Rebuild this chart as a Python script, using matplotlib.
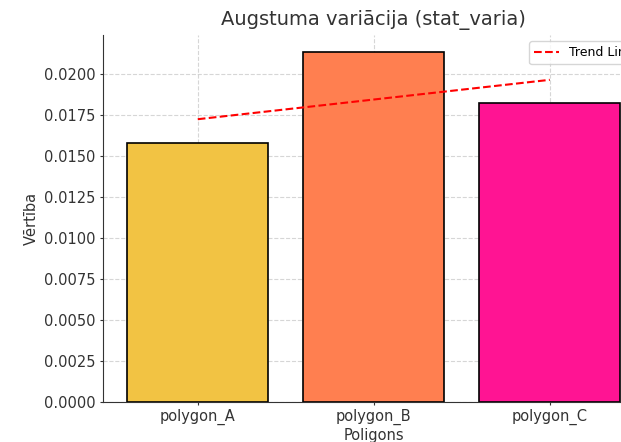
import matplotlib
matplotlib.use("Agg")
import matplotlib.pyplot as plt
import numpy as np

categories = ["polygon_A", "polygon_B", "polygon_C"]
values = [0.0158, 0.0213, 0.0182]
colors = ["#F2C343", "#FF7F50", "#FF1493"]

fig = plt.figure(figsize=(6.21, 4.42), dpi=100)
ax = fig.add_axes([0.1654, 0.0905, 0.873, 0.8303])

x = np.arange(len(categories))
ax.bar(x, values, color=colors, edgecolor="black", linewidth=1.2, width=0.8, zorder=2)
coef = np.polyfit(x, values, 1)
ax.plot(x, np.polyval(coef, x), "r--", linewidth=1.5, label="Trend Line", zorder=3)

ax.set_xticks(x)
ax.set_xticklabels(categories)
ax.set_title("Augstuma variācija (stat_varia)", fontsize=14, color="#333333", pad=7)
ax.set_xlabel("Poligons", fontsize=10.5, color="#333333", labelpad=2)
ax.set_ylabel("Vērtība", fontsize=10.5, color="#333333", labelpad=4)
ax.grid(True, linestyle="--", color="#cccccc", alpha=0.8, zorder=0)
ax.set_axisbelow(True)
for s in ["top", "right"]:
    ax.spines[s].set_visible(False)
ax.spines["left"].set_color("#333333")
ax.spines["bottom"].set_color("#333333")
ax.tick_params(colors="#333333", labelsize=10.5, length=2.5, pad=2.5)
ax.legend(loc="upper right", fontsize=9)

fig.savefig("out.png", dpi=100)
